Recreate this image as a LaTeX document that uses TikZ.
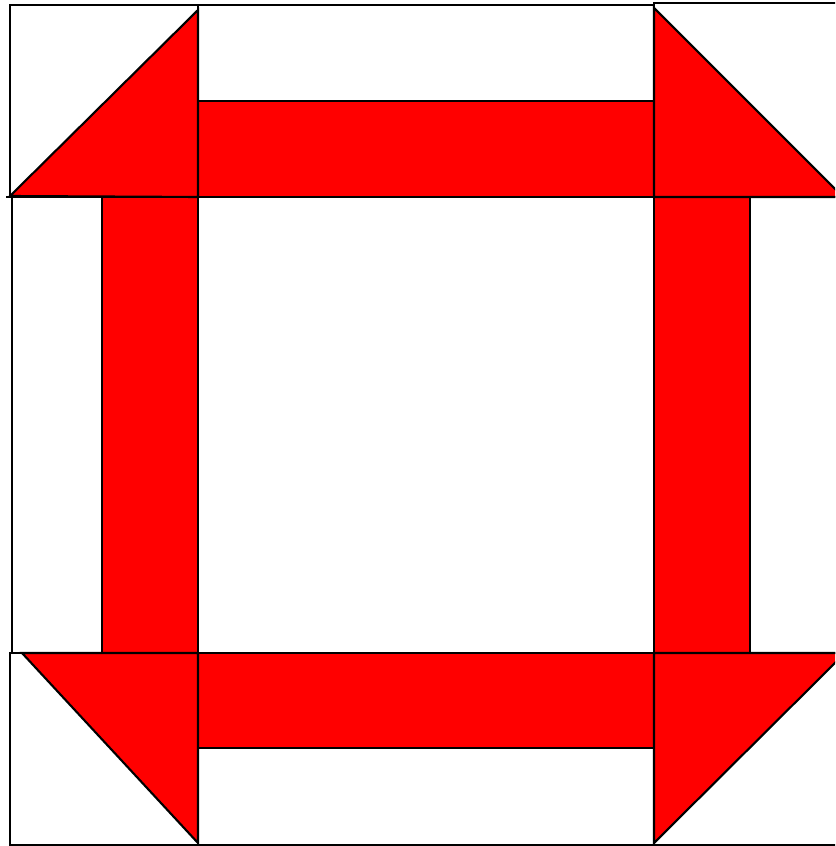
\documentclass[tikz,border=0pt]{standalone}
\usepackage{tikz}
\definecolor{quiltred}{HTML}{FF0000}

\begin{document}
\begin{tikzpicture}[
 x=0.01cm,y=-0.01cm,
 cell/.style={draw=black,line width=0.6pt,fill=white},
 patch/.style={draw=black,line width=0.6pt,fill=quiltred,line join=miter}
]
\useasboundingbox (0,0) rectangle (835,846);
\clip (0,0) rectangle (835,846);
% corner squares and edge cells
\draw[cell] (10,5) rectangle (198,197);
\draw[cell] (198,5) rectangle (654,101);
\draw[cell] (654,3) rectangle (850,197);
\draw[cell] (12,197) rectangle (102,653);
\draw[cell] (750,197) rectangle (850,653);
\draw[cell] (10,653) rectangle (198,845);
\draw[cell] (198,748) rectangle (654,845);
\draw[cell] (654,653) rectangle (850,845);
% bars
\draw[patch] (198,101) rectangle (654,197);
\draw[patch] (198,653) rectangle (654,748);
\draw[patch] (102,197) rectangle (198,653);
\draw[patch] (654,197) rectangle (750,653);
% corner triangles
\draw[patch] (10,196) -- (198,10) -- (198,197) -- cycle;
\draw[patch] (654,8) -- (843,197) -- (654,197) -- cycle;
\draw[patch] (22,653) -- (198,653) -- (198,843) -- cycle;
\draw[patch] (654,653) -- (845,653) -- (654,843) -- cycle;
% seam lines
\draw[line width=0.6pt] (6,197) -- (835,197);
\draw[line width=0.6pt] (10,653) -- (835,653);
\end{tikzpicture}
\end{document}
